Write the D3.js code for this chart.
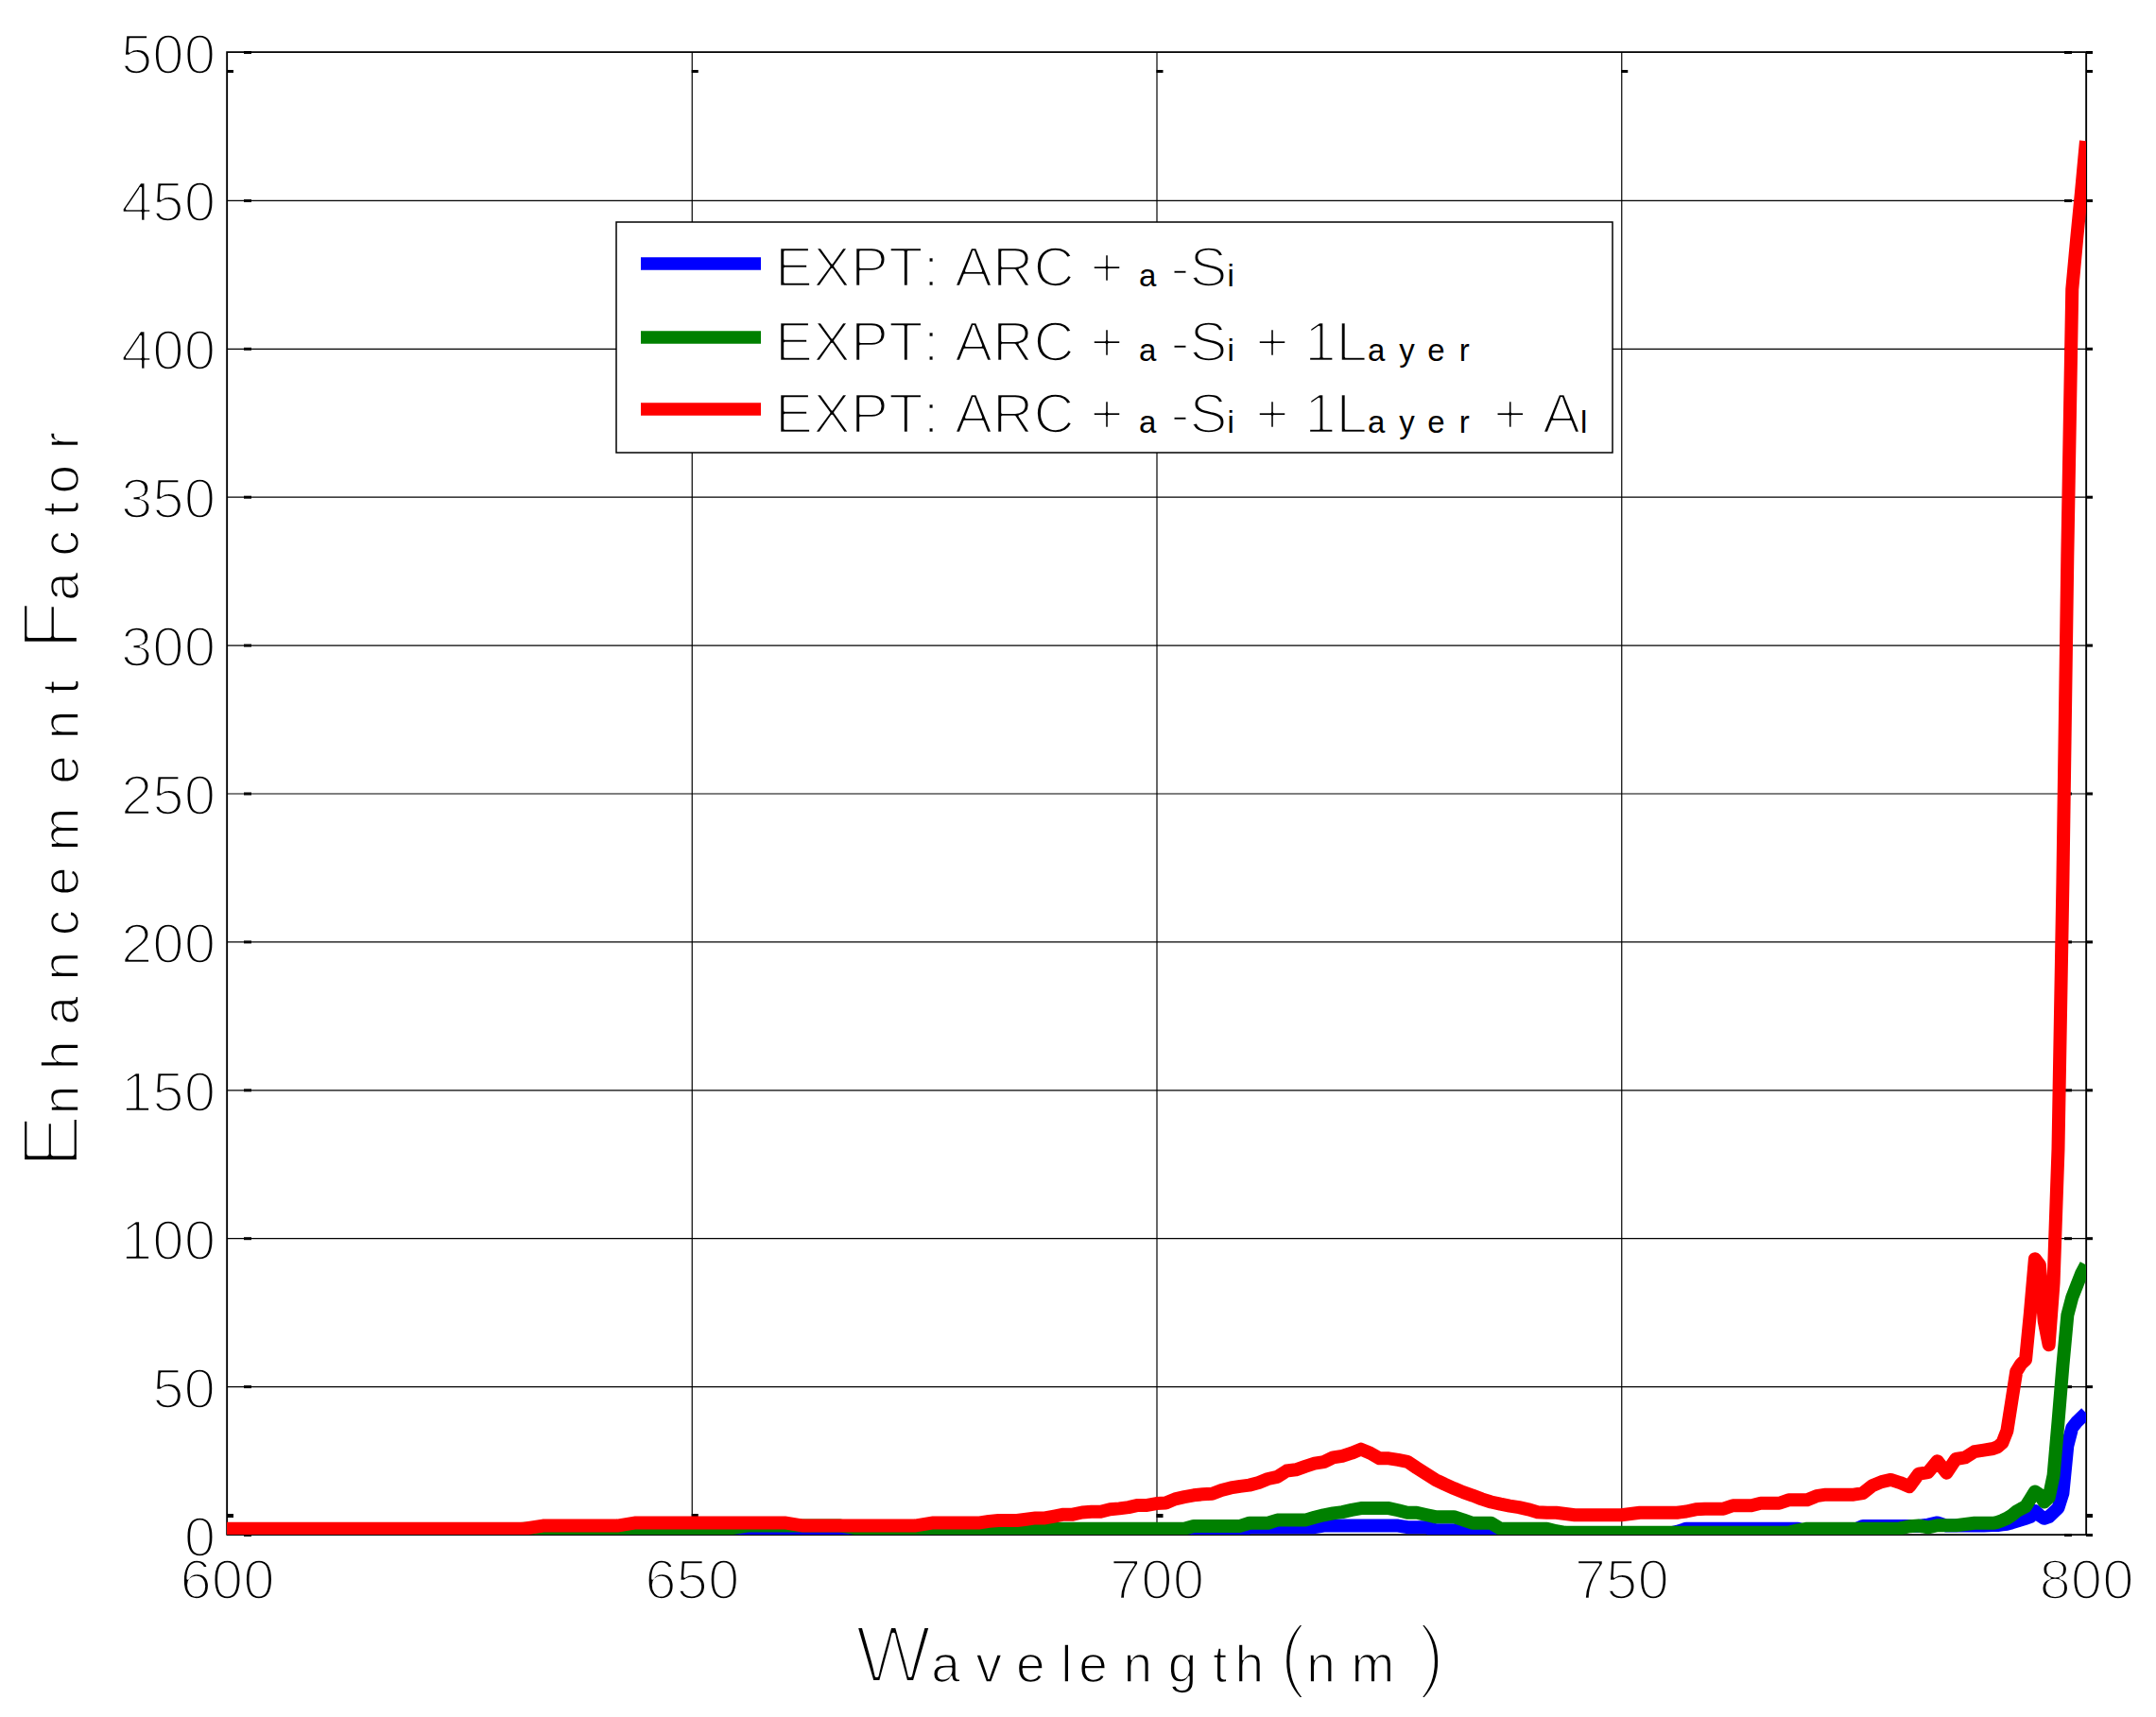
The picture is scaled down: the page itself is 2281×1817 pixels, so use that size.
<!DOCTYPE html>
<html><head><meta charset="utf-8">
<script src="https://cdn.jsdelivr.net/npm/d3@7"></script>
<style>body{margin:0;background:#fff} svg{display:block}</style>
</head><body>
<svg id="chart" width="2281" height="1817"></svg>
<script>
// ---------------- DATA ----------------
const wavelength = [
600,602,604,606,608,610,612,614,616,618,620,622,624,626,628,630,632,634,636,638,640,642,644,646,648,650,652,654,656,658,660,662,664,666,668,670,672,674,676,
677,678,679,680,681,682,683,684,685,686,
687,688,689,690,691,692,693,694,695,696,
697,698,699,700,701,702,703,704,705,706,
707,708,709,710,711,712,713,714,715,716,
717,718,719,720,721,722,723,724,725,726,
727,728,729,730,731,732,733,734,735,736,
737,738,739,740,741,742,743,744,745,746,
747,748,749,750,751,752,753,754,755,756,
757,758,759,760,761,762,763,764,765,766,
767,768,769,770,771,772,773,774,775,776,
777,778,779,780,781,782,783,784,785,786,787,788,789,790,
790.5,791,791.5,792,792.5,793,793.5,794,794.5,795,795.5,796,796.5,797,797.5,798,798.5,799,799.5,800];

const seriesBlue = [
0.5,0.5,0.5,0.5,0.5,0.5,0.5,0.5,0.5,0.5,0.5,0.5,0.5,0.5,0.5,0.5,0.5,0.5,0.5,0.5,0.5,0.5,0.5,0.5,0.5,0.5,0.5,0.5,1.2,1.2,1.2,1.2,1.2,1.2,0.5,0.5,0.5,0.5,0.5,
0.5,0.5,0.5,0.5,0.5,0.5,0.5,0.5,0.5,0.5,
0.5,0.5,0.5,0.5,0.5,0.5,0.5,0.5,0.5,0.5,
0.5,0.5,0.5,0.5,0.5,0.5,1,1,1,1,
1,1,1,2.5,2.5,2.5,2.5,2.5,2.5,2.5,
2.5,3,3,3,3,3,3,3,3,3,
2.5,2.5,2.5,1.5,1.5,1.5,1.5,0.3,0.3,0.3,
0.3,0.3,0.3,0.3,0.3,0.3,0.3,0.3,0.3,0.3,
0.3,0.3,0.3,0.3,0.3,0.3,0.3,0.3,0.3,1,
2,2,2,2,2,2,2,2,2,2,
2,2,2,1,1,1,1,1,1.5,2.9,
2.9,2.9,2.9,2.9,2.9,2.9,3.3,4,3,3,3,3,3,3.2,
3.2,3.4,3.6,4,4.5,5,5.5,6,8,6.5,5.5,6,7.5,9,14,30,36,38,39.5,41];

const seriesGreen = [
1.5,1.5,1.5,1.5,1.5,1.5,1.5,1.5,1.5,1.5,1.5,1.5,1.5,1.5,1.5,1.5,2,2,2,2,2,2,2,2,2,2,2,2,3,3,3,3,3,3,2,2,2,2,2,
2,2,2,2,2,2,2,2,2,2,
2,2,2,2,2,2,2,2,2,2,
2,2,2,2,2,2,2,2.9,2.9,2.9,
2.9,2.9,2.9,3.9,3.9,3.9,4.9,4.9,4.9,4.9,
5.8,6.6,7.2,7.6,8.3,8.9,8.9,8.9,8.9,8.2,
7.4,7.4,6.7,6,6,6,5,3.9,3.9,3.9,
2,2,2,2,2,2,1.2,0.7,0.7,0.7,
0.7,0.7,0.7,0.7,0.7,0.7,0.7,0.7,0.7,0.7,
0.7,0.7,0.7,0.7,0.7,0.7,0.7,0.7,0.7,0.7,
0.7,0.7,1.5,2,2,2,2,2,2,2,
2,2,2,2.1,2.8,3,2.4,3.1,3.1,3.1,3.5,3.9,3.9,3.9,
4.2,4.8,5.5,6.5,7.8,8.7,9.5,12,14.5,13.5,11,12.5,20,38,57,74,80,84,88,91];

const seriesRed = [
2,2,2,2,2,2,2,2,2,2,2,2,2,2,2,2,2,3,3,3,3,3,4,4,4,4,4,4,4,4,4,3,3,3,3,3,3,3,4,
4,4,4,4,4,4.5,4.8,4.8,4.8,5.2,
5.6,5.6,6.2,6.8,6.8,7.5,7.7,7.7,8.5,8.8,
9.2,9.9,9.9,10.5,10.7,12,12.7,13.3,13.6,13.8,
15,15.8,16.3,16.7,17.5,18.8,19.5,21.5,21.9,23,
24,24.5,26,26.5,27.5,28.8,27.5,25.7,25.7,25.2,
24.6,22.5,20.5,18.5,17,15.6,14.3,13.2,12,11,
10.3,9.7,9.2,8.5,7.6,7.4,7.4,7,6.6,6.6,
6.6,6.6,6.6,6.6,7,7.4,7.4,7.4,7.4,7.4,
7.8,8.5,8.7,8.7,8.7,9.8,9.8,9.8,10.6,10.6,
10.6,11.7,11.7,11.7,13,13.5,13.5,13.5,13.5,14,
16.5,17.8,18.5,17.5,16.2,20.5,21,24.8,20.8,25.5,26,28,28.5,29,
29.6,31,35,45,55,57.5,59,75,93,91,72,64,85,130,220,330,420,437,453,470];

const seriesNames = ["EXPT: ARC + a-Si", "EXPT: ARC + a-Si + 1Layer", "EXPT: ARC + a-Si + 1Layer + Al"];
const seriesColors = ["#0000ff", "#008000", "#ff0000"];
const xTicks = [600, 650, 700, 750, 800];
const yTicks = [0, 50, 100, 150, 200, 250, 300, 350, 400, 450, 500];
const xTitle = "Wavelength(nm)";
const yTitle = "Enhancement Factor";

// ---------------- LAYOUT ----------------
const W = 2281, H = 1817;
const plot = {left: 240, right: 2207, top: 55, bottom: 1624};
const FONT = "'Liberation Sans', Arial, Helvetica, sans-serif";

const svg = d3.select("#chart");
svg.append("rect").attr("width", W).attr("height", H).attr("fill", "#fff");

const x = d3.scaleLinear().domain([600, 800]).range([plot.left, plot.right]);
const y = d3.scaleLinear().domain([0, 500]).range([plot.bottom, plot.top]);

// gridlines
svg.append("g").attr("transform", `translate(0,${plot.bottom})`)
  .call(d3.axisBottom(x).tickValues(xTicks).tickSize(-(plot.bottom - plot.top)).tickFormat(""))
  .call(g => g.select(".domain").remove())
  .call(g => g.selectAll("line").attr("stroke", "#000").attr("stroke-width", 1.2));
svg.append("g").attr("transform", `translate(${plot.left},0)`)
  .call(d3.axisLeft(y).tickValues(yTicks).tickSize(-(plot.right - plot.left)).tickFormat(""))
  .call(g => g.select(".domain").remove())
  .call(g => g.selectAll("line").attr("stroke", "#000").attr("stroke-width", 1.2));

// box
svg.append("rect").attr("x", plot.left).attr("y", plot.top)
  .attr("width", plot.right - plot.left).attr("height", plot.bottom - plot.top)
  .attr("fill", "none").attr("stroke", "#000").attr("stroke-width", 1.5);

// little tick marks
const tm = svg.append("g").attr("fill", "#000");
yTicks.forEach(v => {
  const yy = y(v);
  tm.append("rect").attr("x", plot.left + 18).attr("y", yy - 1).attr("width", 8).attr("height", 3);
  tm.append("rect").attr("x", plot.right - 23).attr("y", yy - 1).attr("width", 8).attr("height", 3);
  tm.append("rect").attr("x", plot.right).attr("y", yy - 1).attr("width", 7).attr("height", 3);
});
xTicks.forEach(v => {
  const xx = x(v);
  tm.append("rect").attr("x", xx).attr("y", plot.top + 19).attr("width", 7).attr("height", 3);
  tm.append("rect").attr("x", xx).attr("y", plot.bottom - 22).attr("width", 7).attr("height", 4);
});

// lines
svg.append("defs").append("clipPath").attr("id", "clip").append("rect")
  .attr("x", plot.left).attr("y", plot.top).attr("width", plot.right - plot.left).attr("height", plot.bottom - plot.top);
const allSeries = [seriesBlue, seriesGreen, seriesRed];
const line = d3.line().x((d, i) => x(wavelength[i])).y(d => y(d));
const lg = svg.append("g").attr("clip-path", "url(#clip)");
allSeries.forEach((s, k) => {
  lg.append("path").datum(s).attr("d", line).attr("fill", "none")
    .attr("stroke", seriesColors[k]).attr("stroke-width", 14)
    .attr("stroke-linejoin", "round").attr("stroke-linecap", "butt");
});

// tick labels
const gxa = svg.append("g").attr("transform", `translate(0,${plot.bottom})`)
  .call(d3.axisBottom(x).tickValues(xTicks).tickSize(0).tickFormat(d3.format("d")));
gxa.select(".domain").remove();
gxa.selectAll("text").attr("y", 1692 - plot.bottom).attr("dy", null)
  .attr("font-family", FONT).attr("font-size", 60).attr("fill", "#000")
  .attr("stroke", "#fff").attr("stroke-width", 2.6).attr("stroke-linejoin", "round");
const gya = svg.append("g").attr("transform", `translate(${plot.left},0)`)
  .call(d3.axisLeft(y).tickValues(yTicks).tickSize(0).tickFormat(d3.format("d")));
gya.select(".domain").remove();
gya.selectAll("text").attr("x", -12).attr("y", 22).attr("dy", null)
  .attr("font-family", FONT).attr("font-size", 60).attr("fill", "#000")
  .attr("stroke", "#fff").attr("stroke-width", 2.6).attr("stroke-linejoin", "round");

// rich text: lowercase letters drawn small but advanced at full size
const ctx = document.createElement("canvas").getContext("2d");
function adv(ch, size) { ctx.font = `${size}px ${FONT}`; return ctx.measureText(ch).width; }
function rich(parent, str, x0, y0, big, small, sw, swSmall) {
  const t = parent.append("text").attr("font-family", FONT).attr("fill", "#000").attr("y", y0);
  let cx = x0;
  for (const ch of str) {
    if (ch !== " ") {
      const isSmall = /[a-z]/.test(ch);
      const ts = t.append("tspan").attr("x", cx).attr("y", y0).attr("font-size", isSmall ? small : big).text(ch);
      const w = isSmall ? swSmall : sw;
      if (w > 0) ts.attr("stroke", "#fff").attr("stroke-width", w).attr("stroke-linejoin", "round");
    }
    cx += adv(ch, big);
  }
  return t;
}

// axis titles
rich(svg, xTitle, 905, 1780, 85, 55, 4.2, 1.6);
const yt = svg.append("g").attr("transform", `translate(83,0) rotate(-90)`);
rich(yt, yTitle, -1236, 0, 85, 55, 4.2, 1.6);

// legend
const leg = {x: 652, y: 235, w: 1054, h: 244};
svg.append("rect").attr("x", leg.x).attr("y", leg.y).attr("width", leg.w).attr("height", leg.h)
  .attr("fill", "#fff").attr("stroke", "#000").attr("stroke-width", 1.5);
const rowsY = [279, 357, 433];
const rowsBase = [303, 382, 458];
seriesNames.forEach((name, k) => {
  svg.append("line").attr("x1", 678).attr("x2", 805).attr("y1", rowsY[k]).attr("y2", rowsY[k])
    .attr("stroke", seriesColors[k]).attr("stroke-width", 13.5);
  rich(svg, name, 820, rowsBase[k], 60, 33, 2.6, 0);
});
</script>
</body></html>
